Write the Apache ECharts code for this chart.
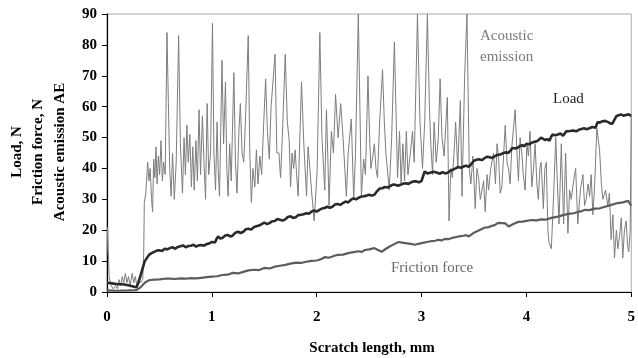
<!DOCTYPE html>
<html>
<head>
<meta charset="utf-8">
<script src="https://cdn.jsdelivr.net/npm/echarts@6/dist/echarts.min.js"></script>
<style>html,body{margin:0;padding:0;background:#fff}#c{width:638px;height:358px}</style>
</head>
<body>
<div id="c"></div>
<script>
var xTicks = [0, 1, 2, 3, 4, 5];
var yTicks = [0, 10, 20, 30, 40, 50, 60, 70, 80, 90];

var aeX = [0.000,0.006,0.020,0.040,0.060,0.080,0.100,0.115,0.130,0.145,0.160,0.175,0.190,0.205,0.220,0.240,0.255,0.270,0.285,0.300,0.320,0.340,0.350,0.356,0.370,0.388,0.400,0.412,0.425,0.435,0.445,0.457,0.467,0.478,0.490,0.502,0.515,0.528,0.540,0.555,0.572,0.585,0.598,0.612,0.625,0.642,0.660,0.683,0.700,0.720,0.735,0.748,0.762,0.775,0.790,0.805,0.818,0.832,0.848,0.862,0.878,0.892,0.910,0.925,0.940,0.955,0.970,0.988,1.006,1.020,1.035,1.050,1.060,1.073,1.097,1.112,1.130,1.143,1.155,1.170,1.185,1.210,1.225,1.240,1.258,1.272,1.288,1.304,1.320,1.347,1.362,1.377,1.392,1.410,1.425,1.440,1.458,1.475,1.495,1.513,1.530,1.548,1.565,1.603,1.620,1.640,1.655,1.672,1.700,1.720,1.738,1.751,1.765,1.780,1.795,1.808,1.823,1.855,1.877,1.903,1.918,1.935,1.950,1.976,2.004,2.030,2.050,2.077,2.093,2.105,2.118,2.140,2.160,2.180,2.204,2.229,2.251,2.268,2.283,2.300,2.330,2.353,2.370,2.397,2.412,2.426,2.448,2.465,2.489,2.505,2.517,2.535,2.550,2.565,2.580,2.600,2.628,2.645,2.660,2.692,2.715,2.741,2.771,2.790,2.805,2.822,2.838,2.855,2.870,2.890,2.914,2.930,2.961,2.985,3.009,3.030,3.056,3.075,3.088,3.105,3.120,3.140,3.160,3.177,3.195,3.215,3.246,3.262,3.280,3.294,3.310,3.325,3.345,3.370,3.386,3.411,3.433,3.455,3.470,3.490,3.512,3.528,3.544,3.560,3.576,3.592,3.607,3.625,3.639,3.660,3.686,3.705,3.720,3.734,3.750,3.766,3.798,3.815,3.829,3.845,3.861,3.893,3.910,3.924,3.940,3.956,3.970,3.988,4.005,4.019,4.035,4.051,4.068,4.083,4.100,4.114,4.128,4.140,4.162,4.176,4.190,4.205,4.216,4.238,4.258,4.280,4.296,4.311,4.333,4.355,4.374,4.396,4.412,4.428,4.450,4.470,4.490,4.515,4.539,4.555,4.570,4.588,4.603,4.618,4.634,4.650,4.672,4.698,4.715,4.730,4.755,4.777,4.792,4.808,4.825,4.840,4.858,4.872,4.888,4.905,4.919,4.935,4.951,4.965,4.976,4.990,5.000];
var aeY = [12,21,5,2,1,2,1,4,2,5,3,6,3,5,2,6,3,5,2,4,3,4,12,29,32,42,36,40,30,26,43,37,47,35,44,38,49,36,42,38,84,62,40,31,45,30,42,83,48,32,50,38,54,42,51,34,47,33,49,36,59,38,57,42,30,61,38,45,87,45,33,55,40,31,75,48,68,40,31,48,36,71,42,32,52,61,45,42,55,83,45,29,40,34,46,35,44,38,55,69,52,43,60,77,45,45,37,50,77,55,49,34,45,40,46,38,31,68,48,31,47,40,33,23,39,84,50,33,59,45,28,52,45,64,50,61,50,40,31,45,56,30,45,90,60,31,43,38,70,50,40,44,48,40,37,55,72,55,45,33,50,81,37,52,35,48,36,52,38,44,52,42,90,55,40,55,90,60,48,38,55,42,50,69,50,44,63,23,40,37,45,55,40,62,31,70,90,40,35,44,27,40,37,30,30,36,26,38,33,40,45,35,48,44,32,34,54,42,40,35,47,59,45,36,50,45,38,33,48,44,52,34,40,48,35,30,40,42,27,40,42,20,16,14,30,50,35,22,48,22,45,19,33,30,36,40,22,33,38,28,30,35,31,38,25,34,53,46,35,30,33,28,32,17,25,11,20,14,18,24,11,20,23,15,13,20,57];

var loadX = [0.00,0.05,0.10,0.15,0.20,0.25,0.28,0.30,0.33,0.36,0.40,0.425,0.45,0.475,0.50,0.525,0.55,0.575,0.60,0.625,0.65,0.675,0.70,0.725,0.75,0.775,0.80,0.825,0.85,0.875,0.90,0.925,0.95,0.975,1.00,1.015,1.03,1.045,1.06,1.08,1.10,1.125,1.15,1.175,1.20,1.225,1.25,1.275,1.30,1.325,1.35,1.375,1.40,1.425,1.45,1.475,1.50,1.525,1.55,1.575,1.60,1.625,1.65,1.675,1.70,1.725,1.75,1.775,1.80,1.825,1.85,1.875,1.90,1.925,1.95,1.975,2.00,2.025,2.05,2.075,2.10,2.125,2.15,2.175,2.20,2.225,2.25,2.275,2.30,2.325,2.35,2.375,2.40,2.425,2.45,2.475,2.50,2.525,2.55,2.575,2.60,2.625,2.65,2.675,2.70,2.725,2.75,2.775,2.80,2.825,2.85,2.875,2.90,2.925,2.95,2.975,3.00,3.015,3.03,3.055,3.08,3.115,3.15,3.175,3.20,3.225,3.25,3.275,3.30,3.325,3.35,3.375,3.40,3.425,3.45,3.475,3.50,3.525,3.55,3.575,3.60,3.625,3.65,3.675,3.70,3.725,3.75,3.775,3.80,3.825,3.85,3.865,3.88,3.90,3.92,3.94,3.96,3.98,4.00,4.025,4.05,4.075,4.10,4.12,4.14,4.16,4.18,4.20,4.22,4.235,4.25,4.275,4.30,4.325,4.35,4.365,4.38,4.415,4.45,4.475,4.50,4.525,4.55,4.575,4.60,4.63,4.66,4.67,4.68,4.70,4.72,4.75,4.78,4.80,4.82,4.84,4.86,4.88,4.90,4.925,4.95,4.975,5.00];
var loadY = [3,2.8,2.5,2.5,2.2,1.8,1.5,3,6.5,10,12,12.6,13,13.4,13.5,13.3,14,13.8,14.2,14.5,14,14.6,14.8,15.1,14.5,14.9,15,15.3,14.7,15.1,15.2,15,15.5,15.7,16.2,15.8,16,17.2,18,17.3,17.5,18.2,18.5,18,18.3,19.2,19.5,19.1,19.5,20.3,20.5,20.2,21,21.3,21.5,22,22.5,22,22.3,22.9,23,23.6,23.4,23.1,23.5,24.3,24.5,24,24.2,24.9,25,25.2,25.5,25.3,26,26.4,26,26.6,27,27.2,27.6,27.3,27.6,28.3,28.5,28.2,28.8,29.3,29,29.8,30.3,30,30.5,30.9,31,31.2,31.5,31.2,31.5,32.6,33.5,33.6,34,33.8,34.3,34.8,34.7,34.4,34.7,35.1,35.2,35,35.5,35.8,35.8,35.5,36,37.5,39,38.4,38.6,38.9,38.6,38.3,38.8,38.4,38.6,39.3,39.6,40,40.5,40.2,40.6,40.9,40.5,41.5,42.5,42.8,43,42.7,43.3,43.8,43.6,43.4,44,44.4,44.5,44.9,45.2,45,45.8,46.6,47.2,46.5,46.8,47.3,47.5,47.2,48,47.8,48.3,48.6,48.8,49.3,50,49.6,49.2,49.5,49,50.2,51,50.7,51,51.3,50.6,51.2,52,52.1,52.3,52,52.5,52.8,53,52.7,53,53.4,53.2,54.2,55,54.8,55.2,55.4,55,54.6,54.5,55.8,57,57.2,57.5,57.1,57.3,57.5,57];

var fricX = [0.00,0.10,0.20,0.28,0.32,0.36,0.40,0.45,0.50,0.55,0.60,0.65,0.70,0.75,0.80,0.85,0.90,0.95,1.00,1.05,1.10,1.15,1.20,1.25,1.30,1.35,1.40,1.45,1.50,1.55,1.60,1.65,1.70,1.75,1.80,1.85,1.90,1.95,2.00,2.04,2.08,2.115,2.15,2.175,2.20,2.25,2.30,2.35,2.40,2.43,2.46,2.50,2.55,2.585,2.62,2.66,2.70,2.74,2.78,2.815,2.85,2.895,2.94,2.97,3.00,3.05,3.10,3.13,3.16,3.19,3.22,3.255,3.29,3.345,3.40,3.425,3.45,3.475,3.50,3.55,3.60,3.64,3.68,3.705,3.73,3.765,3.80,3.815,3.83,3.875,3.92,3.96,4.00,4.05,4.10,4.14,4.18,4.24,4.30,4.35,4.40,4.45,4.50,4.53,4.56,4.60,4.65,4.70,4.75,4.81,4.87,4.92,4.97,5.00];
var fricY = [0.5,0.4,0.5,0.6,1.5,3,3.8,4.0,4.1,4.3,4.3,4.2,4.4,4.3,4.5,4.4,4.6,4.8,5,5.1,5.5,5.6,6.2,6,6.5,7.0,7.2,7.1,7.8,7.6,8.2,8.5,8.8,9.2,9.5,9.4,9.8,10.1,10.2,10.6,11.3,11.1,11.5,11.8,12,12.1,12.6,12.9,13.2,13.0,13.6,13.8,14.2,13.6,13,14,14.8,15.5,16.2,16.0,15.8,15.6,15.3,15.6,15.8,16.2,16.5,16.6,16.9,16.7,17.2,17.1,17.5,17.9,18.2,18.4,18,18.6,19.2,20,20.8,21,21.5,21.8,22.4,22.3,22.2,21.7,21.2,22,22.7,22.8,23,23.3,23.2,23.5,23.4,24,24.4,24.9,25.3,25.5,26,26.2,26.6,26.5,27,27.1,27.6,28.2,28.8,29,29.5,28];

function pairs(xs, ys) { return xs.map(function (x, i) { return [x, ys[i]]; }); }

var serif = '"Liberation Serif", "Times New Roman", serif';
var chart = echarts.init(document.getElementById('c'), null, { renderer: 'canvas' });
chart.setOption({
  animation: false,
  backgroundColor: '#ffffff',
  grid: { left: 107, right: 4, top: 14, bottom: 66, show: true, borderColor: '#a8a8a8', borderWidth: 1 },
  xAxis: {
    type: 'value', min: xTicks[0], max: xTicks[xTicks.length - 1], interval: 1,
    axisLine: { show: true, onZero: false, lineStyle: { color: '#000', width: 1.2 } },
    axisTick: { show: true, inside: false, length: 5, lineStyle: { color: '#000' } },
    axisLabel: { margin: 18, color: '#000', fontFamily: serif, fontWeight: 'bold', fontSize: 15 },
    splitLine: { show: false }
  },
  yAxis: {
    type: 'value', min: yTicks[0], max: yTicks[yTicks.length - 1], interval: 10,
    axisLine: { show: true, onZero: false, lineStyle: { color: '#000', width: 1.2 } },
    axisTick: { show: true, inside: false, length: 5, lineStyle: { color: '#000' } },
    axisLabel: { margin: 10, color: '#000', fontFamily: serif, fontWeight: 'bold', fontSize: 15 },
    splitLine: { show: false }
  },
  series: [
    { type: 'line', name: 'Acoustic emission', data: pairs(aeX, aeY), showSymbol: false, symbol: 'none',
      lineStyle: { color: '#7d7d7d', width: 1 }, z: 2 },
    { type: 'line', name: 'Friction force', data: pairs(fricX, fricY), showSymbol: false, symbol: 'none',
      lineStyle: { color: '#5c5c5c', width: 2.2 }, z: 3 },
    { type: 'line', name: 'Load', data: pairs(loadX, loadY), showSymbol: false, symbol: 'none',
      lineStyle: { color: '#2a2a2a', width: 2.6 }, z: 4 }
  ],
  graphic: [
    { type: 'text', x: 17, y: 152, rotation: Math.PI / 2, style: { text: 'Load, N', font: 'bold 15px ' + serif, fill: '#000', textAlign: 'center', textVerticalAlign: 'middle' } },
    { type: 'text', x: 38, y: 152, rotation: Math.PI / 2, style: { text: 'Friction force, N', font: 'bold 15px ' + serif, fill: '#000', textAlign: 'center', textVerticalAlign: 'middle' } },
    { type: 'text', x: 60, y: 152, rotation: Math.PI / 2, style: { text: 'Acoustic emission AE', font: 'bold 15px ' + serif, fill: '#000', textAlign: 'center', textVerticalAlign: 'middle' } },
    { type: 'text', x: 372, y: 348, style: { text: 'Scratch length, mm', font: 'bold 15px ' + serif, fill: '#000', textAlign: 'center', textVerticalAlign: 'middle' } },
    { type: 'text', x: 480, y: 36, style: { text: 'Acoustic', font: '15px ' + serif, fill: '#7a7a7a', textAlign: 'left', textVerticalAlign: 'middle' } },
    { type: 'text', x: 480, y: 57, style: { text: 'emission', font: '15px ' + serif, fill: '#7a7a7a', textAlign: 'left', textVerticalAlign: 'middle' } },
    { type: 'text', x: 553, y: 99, style: { text: 'Load', font: '15px ' + serif, fill: '#222', textAlign: 'left', textVerticalAlign: 'middle' } },
    { type: 'text', x: 391, y: 268, style: { text: 'Friction force', font: '15px ' + serif, fill: '#6a6a6a', textAlign: 'left', textVerticalAlign: 'middle' } }
  ]
});
</script>
</body>
</html>
